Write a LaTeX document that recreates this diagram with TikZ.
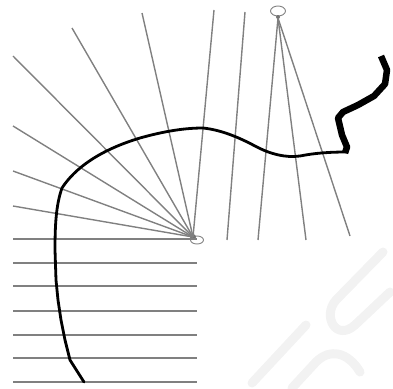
\documentclass[tikz,border=0pt]{standalone}
\begin{document}
\begin{tikzpicture}[x=1pt,y=-1pt,
  ray/.style={draw=black!50,line width=1.4pt},
  paththin/.style={draw=black,line width=2.8pt,line join=round,line cap=round},
  paththick/.style={draw=black,line width=6.5pt,line join=round,line cap=butt},
  wm/.style={draw=black!5,line width=9pt,line cap=round,line join=round}]
\useasboundingbox (0,0) rectangle (393,388);
% watermark
\draw[wm] (383,252) -- (336,300) .. controls (322,316) and (336,342) .. (355,325) -- (390,292);
\draw[wm] (306,325) -- (252,383);
\draw[wm] (292,388) -- (316,362) .. controls (330,348) and (348,352) .. (360,372);
% sensors
\coordinate (s1) at (193,237);
\coordinate (s2) at (278,18);
\draw[black!50,line width=0.9pt] (197,240) ellipse (6.5 and 4);
\draw[black!50,line width=0.9pt] (278,11) ellipse (7.5 and 5);
\fill[black!55] (193,237) circle (3);
\fill[black!55] (278,17) circle (2);
% horizontal rays
\foreach \y in {239,263,286,311,335,358,382}{
  \coordinate (hl\y) at (13,\y);
  \coordinate (hr\y) at (197,\y);
  \draw[ray] (hl\y) -- (hr\y);
}
% fan from lower sensor
\foreach \x/\y [count=\i] in {13/206,13/171,13/126,13/56,72/28,142/13,214/10}{
  \coordinate (f\i) at (\x,\y);
  \draw[ray] (s1) -- (f\i);
}
% parallel ray
\coordinate (pa) at (245,12);
\coordinate (pb) at (227,240);
\draw[ray] (pa) -- (pb);
% fan from upper sensor
\foreach \x/\y [count=\i] in {258/240,306/240,350/236}{
  \coordinate (u\i) at (\x,\y);
  \draw[ray] (s2) -- (u\i);
}
% trajectory
\draw[paththin] (84,382) -- (70,360) -- (65,340) -- (61,320) -- (58,300) -- (56,280) -- (55,250)
  .. controls (55,225) and (56,205) .. (62,188)
  .. controls (75,168) and (100,150) .. (140,138)
  .. controls (165,131) and (185,128) .. (203,128)
  .. controls (222,130) and (240,138) .. (255,146)
  .. controls (270,154) and (285,158) .. (300,156)
  .. controls (315,153) and (330,152) .. (347,152);
\draw[paththick] (345,153) -- (347,147) -- (342,135) -- (338,118) -- (343,112) -- (358,105) -- (374,96) -- (385,84) -- (387,70) -- (381,56);
\end{tikzpicture}
\end{document}
